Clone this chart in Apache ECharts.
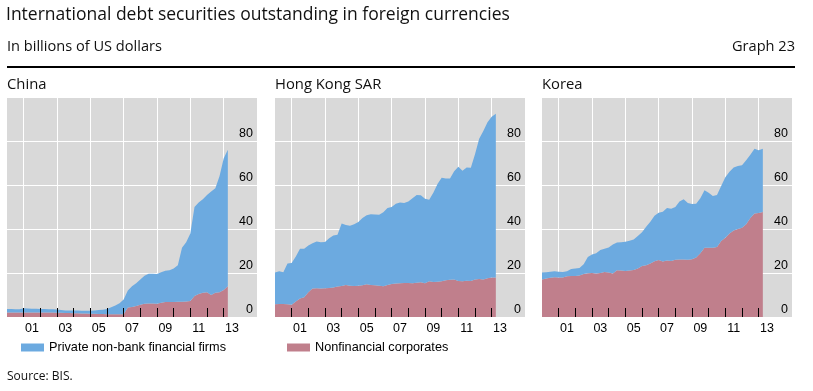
<!DOCTYPE html>
<html>
<head>
<meta charset="utf-8">
<script src="https://cdn.jsdelivr.net/npm/echarts@6/dist/echarts.min.js"></script>
<style>
html,body{margin:0;padding:0;background:#fff;}
#chart{width:813px;height:391px;}
</style>
</head>
<body>
<div id="chart"></div>
<script>
// Quarterly observation positions (decimal years)
const quarters = [
  2000.00, 2000.25, 2000.50, 2000.75, 2001.00, 2001.25, 2001.50, 2001.75,
  2002.00, 2002.25, 2002.50, 2002.75, 2003.00, 2003.25, 2003.50, 2003.75,
  2004.00, 2004.25, 2004.50, 2004.75, 2005.00, 2005.25, 2005.50, 2005.75,
  2006.00, 2006.25, 2006.50, 2006.75, 2007.00, 2007.25, 2007.50, 2007.75,
  2008.00, 2008.25, 2008.50, 2008.75, 2009.00, 2009.25, 2009.50, 2009.75,
  2010.00, 2010.25, 2010.50, 2010.75, 2011.00, 2011.25, 2011.50, 2011.75,
  2012.00, 2012.25, 2012.50, 2012.75, 2013.00, 2013.25
];

// China
const chinaNonfin = [2.1,2.1,2.1,2.1,2.0,2.0,2.0,2.0,2.0,2.0,2.0,2.0,1.9,1.9,1.8,1.8,1.7,1.7,1.6,1.6,1.5,1.5,1.4,1.4,1.3,1.3,1.2,1.2,1.2,4.3,4.6,5.0,5.6,6.0,6.1,6.1,6.0,6.5,6.8,6.8,6.8,6.9,6.9,7.0,7.3,9.5,10.5,11.0,11.3,10.0,11.0,11.3,12.3,14.0];
const chinaPriv = [1.5,1.5,1.4,1.4,2.0,1.9,1.8,1.7,1.6,1.6,1.5,1.5,1.5,1.3,1.2,1.2,1.3,1.2,1.2,1.2,1.3,1.5,1.8,1.9,2.3,3.1,4.0,5.0,6.8,7.7,9.4,10.3,11.4,12.8,13.6,13.6,13.6,13.8,14.2,14.5,15.2,16.6,24.6,27.0,30.7,40.5,41.5,42.5,44.2,47.0,47.5,52.7,59.7,62.0];

// Hong Kong SAR
const hkNonfin = [5.8,5.9,5.9,5.8,5.6,7.0,8.4,9.0,11.3,12.9,13.1,12.9,13.1,13.2,13.4,13.9,14.1,14.6,14.2,14.1,14.2,14.4,14.9,14.5,14.4,14.2,14.0,14.5,15.0,15.2,15.3,15.5,15.5,15.3,15.6,15.8,15.3,16.2,15.9,16.0,16.3,16.7,16.9,17.1,16.4,16.2,16.5,16.4,17.0,17.3,17.1,17.6,17.9,18.0];
const hkPriv = [14.4,14.9,14.4,18.5,18.9,20.5,22.6,22.0,21.2,20.6,21.2,21.1,21.0,22.6,23.7,23.5,28.4,27.2,27.3,28.1,29.0,30.6,31.3,32.2,32.2,32.3,33.6,35.0,35.0,36.3,36.7,36.3,37.0,38.7,39.9,39.5,38.5,37.1,40.6,44.5,47.0,46.2,46.1,49.2,51.9,50.3,51.5,51.4,57.0,63.7,67.4,70.9,73.1,74.4];

// Korea
const koreaNonfin = [17.1,17.5,17.8,18.1,18.0,17.9,18.5,18.6,18.6,18.9,19.5,19.9,20.0,19.8,20.0,20.4,20.2,19.8,21.2,21.1,20.9,21.1,21.4,22.0,23.2,23.5,24.3,25.3,25.9,25.2,25.7,25.4,26.0,26.1,26.1,26.0,26.2,27.0,29.0,31.5,31.5,31.5,31.8,34.5,36.0,38.0,39.3,40.0,40.6,42.2,45.0,47.0,47.3,47.7];
const koreaPriv = [3.1,2.8,2.8,2.7,2.6,2.5,2.3,3.2,3.4,3.4,4.5,7.4,8.4,9.2,10.5,10.6,11.4,13.2,12.7,12.9,13.3,13.6,13.8,14.8,15.3,17.5,19.0,20.7,21.5,22.6,23.8,23.8,24.0,26.4,27.4,25.8,25.2,24.5,25.0,26.1,25.0,23.5,23.7,25.0,27.5,28.0,28.7,28.6,28.4,29.0,28.8,29.5,28.5,28.8];

// Axis ticks / labels
const tickYears = [2001,2002,2003,2004,2005,2006,2007,2008,2009,2010,2011,2012,2013];
const gridYears = [2001,2003,2005,2007,2009,2011,2013];
const labelPos = [2001.5,2003.5,2005.5,2007.5,2009.5,2011.5,2013.5];
const labelText = ['01','03','05','07','09','11','13'];
const yTicks = [0,20,40,60,80];

const panelTitles = ['China','Hong Kong SAR','Korea'];
const seriesNames = ['Private non-bank financial firms','Nonfinancial corporates'];

const BLUE = '#6caae0';
const PINK = '#c07f8c';
const BG = '#d9d9d9';
const panelLeft = [7, 275, 542];
const AXFONT = '"Liberation Sans", Arial, sans-serif';
const TFONT = '"Open Sans", sans-serif';

const panels = [
  {priv: chinaPriv, nonfin: chinaNonfin},
  {priv: hkPriv, nonfin: hkNonfin},
  {priv: koreaPriv, nonfin: koreaNonfin}
];

const grid = [], xAxis = [], yAxis = [], series = [];
panels.forEach((p, i) => {
  grid.push({left: panelLeft[i], top: 97, width: 250, height: 220, show: true,
             backgroundColor: BG, borderWidth: 0, containLabel: false});
  // data axis + vertical gridlines
  xAxis.push({type: 'value', gridIndex: i, position: 'bottom', min: 2000, max: 2015, z: 0,
    axisLine: {show: false},
    axisTick: {show: false, customValues: gridYears},
    axisLabel: {show: false, customValues: gridYears},
    splitLine: {show: true, lineStyle: {color: '#ffffff', width: 1}}});
  // ticks + labels on top of areas
  xAxis.push({type: 'value', gridIndex: i, position: 'bottom', offset: 0, min: 2000, max: 2015, z: 10,
    axisLine: {show: false},
    axisTick: {show: true, inside: true, length: 9, customValues: tickYears,
               lineStyle: {color: '#000', width: 1}},
    axisLabel: {show: true, customValues: labelPos, margin: 5,
      color: '#000', fontFamily: AXFONT, fontSize: 12.5,
      formatter: v => labelText[labelPos.indexOf(v)] || ''},
    splitLine: {show: false}});
  yAxis.push({type: 'value', gridIndex: i, position: 'right', min: 0, max: 100, interval: 20,
    axisLine: {show: false}, axisTick: {show: false},
    axisLabel: {inside: true, margin: 4, verticalAlign: 'bottom', align: 'right',
      color: '#000', fontFamily: AXFONT, fontSize: 12.5, padding: [0,0,1,0],
      formatter: v => yTicks.indexOf(v) >= 0 ? String(v) : ''},
    splitLine: {show: true, lineStyle: {color: '#ffffff', width: 1}}});
  // data rows are [value, date] so that the stack applies to the value (y) dimension
  series.push({type: 'line', name: seriesNames[1], xAxisIndex: 2*i, yAxisIndex: i,
    stack: 'st' + i, encode: {x: 1, y: 0},
    data: quarters.map((q, j) => [p.nonfin[j], q]),
    symbol: 'none', showSymbol: false, lineStyle: {width: 0}, color: PINK,
    areaStyle: {color: PINK, opacity: 1}, silent: true, z: 2});
  series.push({type: 'line', name: seriesNames[0], xAxisIndex: 2*i, yAxisIndex: i,
    stack: 'st' + i, encode: {x: 1, y: 0},
    data: quarters.map((q, j) => [p.priv[j], q]),
    symbol: 'none', showSymbol: false, lineStyle: {width: 0}, color: BLUE,
    areaStyle: {color: BLUE, opacity: 1}, silent: true, z: 2});
});

const graphic = [
  {type: 'text', x: 6, y: 15, style: {text: 'International debt securities outstanding in foreign currencies',
     font: '17.5px ' + TFONT, fill: '#111', verticalAlign: 'middle', align: 'left'}},
  {type: 'text', x: 7, y: 47, style: {text: 'In billions of US dollars',
     font: '14.6px ' + TFONT, fill: '#111', verticalAlign: 'middle', align: 'left'}},
  {type: 'text', x: 795, y: 47, style: {text: 'Graph 23',
     font: '14.6px ' + TFONT, fill: '#111', verticalAlign: 'middle', align: 'right'}},
  {type: 'line', shape: {x1: 7, y1: 67, x2: 795, y2: 67}, style: {stroke: '#000', lineWidth: 2}},
  {type: 'text', x: 7, y: 377, style: {text: 'Source: BIS.',
     font: '12px ' + TFONT, fill: '#111', verticalAlign: 'middle', align: 'left'}}
];
panelTitles.forEach((t, i) => {
  graphic.push({type: 'text', x: panelLeft[i], y: 85, style: {text: t,
    font: '14.8px ' + TFONT, fill: '#111', verticalAlign: 'middle', align: 'left'}});
});

const chart = echarts.init(document.getElementById('chart'), null, {renderer: 'canvas'});
chart.setOption({
  animation: false,
  backgroundColor: '#ffffff',
  grid, xAxis, yAxis, series, graphic,
  legend: {
    top: 341, left: 21, itemWidth: 23, itemHeight: 8, icon: 'rect', padding: 0,
    itemGap: 61, selectedMode: false,
    data: [seriesNames[0], seriesNames[1]],
    textStyle: {color: '#000', fontFamily: AXFONT, fontSize: 12.7}
  }
});
</script>
</body>
</html>
